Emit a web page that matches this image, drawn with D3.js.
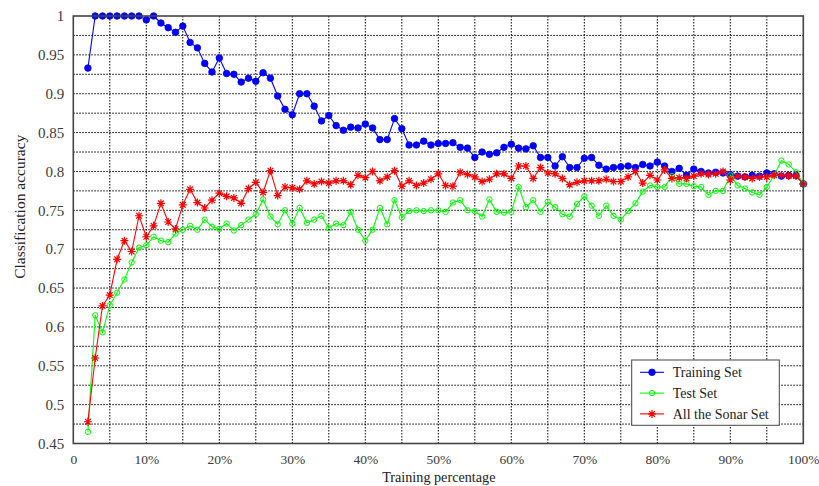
<!DOCTYPE html>
<html><head><meta charset="utf-8">
<script src="https://cdn.jsdelivr.net/npm/d3@7"></script>
<style>body{margin:0;background:#fff}svg{display:block}</style>
</head><body>
<svg id="c" width="819" height="486"></svg>
<script>
const percentages = d3.range(2, 101);
const trainingSet = [0.933,1,1,1,1,1,1,1,0.995,1,0.991,0.985,0.979,0.987,0.966,0.959,0.939,0.928,0.946,
0.926,0.925,0.915,0.920,0.916,0.927,0.920,0.897,0.880,0.873,0.900,0.900,0.884,0.865,0.872,0.859,0.853,0.857,0.856,0.861,
0.856,0.841,0.841,0.868,0.855,0.834,0.834,0.839,0.834,0.836,0.836,0.837,0.831,0.830,0.818,0.825,0.822,0.824,0.831,0.835,
0.830,0.829,0.833,0.818,0.818,0.807,0.819,0.805,0.805,0.817,0.818,0.808,0.803,0.805,0.806,0.807,0.805,0.809,0.807,0.812,
0.807,0.800,0.804,0.795,0.803,0.800,0.798,0.799,0.798,0.796,0.794,0.793,0.795,0.794,0.798,0.797,0.794,0.795,0.795,0.784];
const testSet = [0.465,0.615,0.593,0.628,0.644,0.661,0.683,0.702,0.705,0.716,0.711,0.709,0.720,0.725,0.730,0.725,0.738,0.729,0.726,
0.733,0.724,0.731,0.738,0.745,0.764,0.742,0.732,0.750,0.733,0.753,0.734,0.738,0.743,0.727,0.733,0.731,0.748,0.725,0.711,
0.725,0.753,0.732,0.763,0.741,0.749,0.750,0.749,0.750,0.750,0.748,0.760,0.763,0.750,0.749,0.742,0.764,0.748,0.747,0.748,
0.780,0.754,0.763,0.748,0.761,0.754,0.745,0.742,0.758,0.768,0.756,0.743,0.756,0.743,0.738,0.749,0.759,0.774,0.782,0.780,
0.780,0.794,0.784,0.784,0.781,0.780,0.770,0.775,0.775,0.795,0.782,0.778,0.773,0.770,0.780,0.795,0.814,0.809,0.799,0.784];
const sonarSet = [0.478,0.560,0.627,0.641,0.687,0.711,0.697,0.743,0.716,0.730,0.759,0.735,0.726,0.757,0.777,0.760,0.753,0.763,0.772,
0.768,0.766,0.759,0.778,0.786,0.773,0.801,0.769,0.780,0.779,0.777,0.788,0.784,0.787,0.785,0.788,0.788,0.783,0.795,0.792,
0.800,0.788,0.793,0.801,0.781,0.788,0.782,0.785,0.790,0.797,0.782,0.781,0.799,0.796,0.793,0.787,0.790,0.797,0.797,0.791,
0.807,0.807,0.791,0.805,0.798,0.797,0.791,0.783,0.786,0.788,0.788,0.788,0.790,0.787,0.787,0.793,0.800,0.785,0.795,0.789,
0.802,0.791,0.792,0.791,0.794,0.797,0.796,0.797,0.800,0.789,0.794,0.793,0.791,0.793,0.793,0.795,0.795,0.794,0.794,0.784];
const seriesNames = ["Training Set", "Test Set", "All the Sonar Set"];
const seriesColors = ["#0000ff", "#00ff00", "#ff0000"];
const xTickLabels = [0,10,20,30,40,50,60,70,80,90,100];
const yTickLabels = [0.45,0.5,0.55,0.6,0.65,0.7,0.75,0.8,0.85,0.9,0.95,1];

const svg = d3.select("#c");
const L = 73.3, R = 803.3, T = 16, B = 443.5;
const x = d3.scaleLinear().domain([0,100]).range([L,R]);
const y = d3.scaleLinear().domain([0.45,1]).range([B,T]);
const font = "'Liberation Serif','DejaVu Serif',serif";

// grid
const g = svg.append("g");
g.selectAll(".vx").data(d3.range(5,100,5)).join("line")
  .attr("x1", d=>x(d)).attr("x2", d=>x(d)).attr("y1", T).attr("y2", B)
  .attr("stroke","#000").attr("stroke-width",1).attr("stroke-dasharray","1.5,1.5");
g.selectAll(".hy").data(d3.range(1,22).map(i=>0.45+i*0.025)).join("line")
  .attr("y1", d=>y(d)).attr("y2", d=>y(d)).attr("x1", L).attr("x2", R)
  .attr("stroke","#000").attr("stroke-width",1).attr("stroke-dasharray","1.5,1.5");

// axes labels
const xa = svg.append("g").attr("transform",`translate(0,${B})`)
  .call(d3.axisBottom(x).tickValues(xTickLabels).tickSize(0).tickPadding(11)
    .tickFormat(d=>d===0?"0":d+"%"));
xa.select(".domain").remove();
xa.selectAll("text").attr("font-family",font).attr("font-size",13.5).attr("fill","#3a3a3a");
const ya = svg.append("g").attr("transform",`translate(${L},0)`)
  .call(d3.axisLeft(y).tickValues(yTickLabels).tickSize(0).tickPadding(9)
    .tickFormat(d=>d3.format("")(+d.toFixed(2))));
ya.select(".domain").remove();
ya.selectAll("text").attr("font-family",font).attr("font-size",15).attr("fill","#3a3a3a");

svg.append("text").attr("x",(L+R)/2+0.5).attr("y",482).attr("text-anchor","middle")
  .attr("font-family",font).attr("font-size",14.2).attr("fill","#222").text("Training percentage");
svg.append("text").attr("transform",`translate(25,${(T+B)/2-23}) rotate(-90)`).attr("text-anchor","middle")
  .attr("font-family",font).attr("font-size",15.5).attr("fill","#222").text("Classification accuracy");

// series
const allSeries = [trainingSet, testSet, sonarSet];
const line = d3.line().x((d,i)=>x(percentages[i])).y(d=>y(d));
function star(r){
  const a = r*0.7071;
  return `M0,${-r}L0,${r}M${-r},0L${r},0M${-a},${-a}L${a},${a}M${-a},${a}L${a},${-a}`;
}
function drawMarker(sel, k, col){
  if(k===0) sel.append("circle").attr("r",3.3).attr("fill",col).attr("stroke",col).attr("stroke-width",0.8);
  else if(k===1) sel.append("circle").attr("r",2.7).attr("fill","none").attr("stroke",col).attr("stroke-width",1);
  else sel.append("path").attr("d",star(4)).attr("fill","none").attr("stroke",col).attr("stroke-width",1.2);
}
allSeries.forEach((vals,k)=>{
  const col = seriesColors[k];
  const sg = svg.append("g");
  sg.append("path").datum(vals).attr("d",line).attr("fill","none").attr("stroke",col).attr("stroke-width",1.1);
  vals.forEach((v,i)=>{
    const m = sg.append("g").attr("transform",`translate(${x(percentages[i])},${y(v)})`);
    drawMarker(m,k,col);
  });
});

// frame
svg.append("rect").attr("x",L).attr("y",T).attr("width",R-L).attr("height",B-T)
  .attr("fill","none").attr("stroke","#444").attr("stroke-width",1.6);

// legend
const lg = svg.append("g");
lg.append("rect").attr("x",631.7).attr("y",360).attr("width",147.6).attr("height",65.3)
  .attr("fill","#fff").attr("stroke","#444").attr("stroke-width",1);
seriesNames.forEach((n,k)=>{
  const yy = 372.3 + k*20.8;
  lg.append("line").attr("x1",640).attr("x2",664).attr("y1",yy).attr("y2",yy)
    .attr("stroke",seriesColors[k]).attr("stroke-width",1.1);
  drawMarker(lg.append("g").attr("transform",`translate(652,${yy})`),k,seriesColors[k]);
  lg.append("text").attr("x",672.7).attr("y",yy+4.8).attr("font-family",font).attr("font-size",14)
    .attr("fill","#222").text(n);
});
</script>
</body></html>
